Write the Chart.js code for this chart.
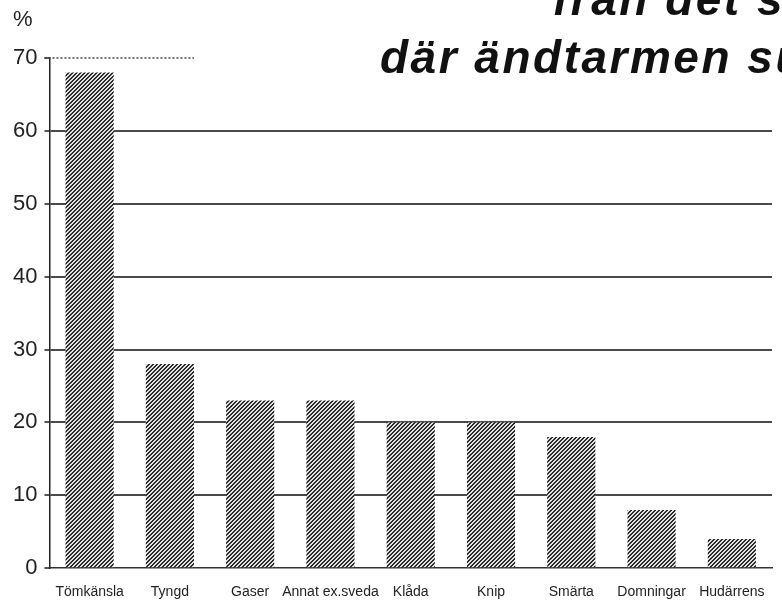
<!DOCTYPE html>
<html>
<head>
<meta charset="utf-8">
<script src="https://cdn.jsdelivr.net/npm/chart.js@4"></script>
<style>
  html, body { margin: 0; padding: 0; background: #fff; overflow: hidden; }
  #wrap { position: relative; width: 782px; height: 602px; overflow: hidden; }
  canvas { position: absolute; left: 0; top: 0; }
  .ttl { position: absolute; font-family: "Liberation Sans", Arial, sans-serif; font-weight: bold; font-style: italic;
         font-size: 46px; line-height: 46px; letter-spacing: 2.5px; white-space: nowrap; color: #111; }
  #pct { position: absolute; left: 13px; top: 8px; font-family: "Liberation Sans", Arial, sans-serif;
         font-size: 22px; line-height: 22px; color: #222; }
</style>
</head>
<body>
<div id="wrap">
  <canvas id="c" width="782" height="602"></canvas>
  <div class="ttl" style="left:553px; top:-24px;">från det ställe</div>
  <div class="ttl" style="left:380px; top:34px;">där ändtarmen suttit</div>
  <div id="pct">%</div>
</div>
<script>
const categories = ["Tömkänsla", "Tyngd", "Gaser", "Annat ex.sveda", "Klåda", "Knip", "Smärta", "Domningar", "Hudärrens"];
const percentValues = [68, 28, 23, 23, 20, 20, 18, 8, 4];
const yTicks = [0, 10, 20, 30, 40, 50, 60, 70];

function makePattern() {
  const p = document.createElement('canvas');
  p.width = 4; p.height = 4;
  const g = p.getContext('2d');
  g.fillStyle = '#e2e2e2';
  g.fillRect(0, 0, 4, 4);
  g.fillStyle = '#2b2b2b';
  for (let i = 0; i < 4; i++) for (let j = 0; j < 4; j++) {
    if ((i + j) % 4 < 2) g.fillRect(i, j, 1, 1);
  }
  return document.getElementById('c').getContext('2d').createPattern(p, 'repeat');
}

const topLinePlugin = {
  id: 'topLine',
  beforeDatasetsDraw(chart) {
    const { ctx, chartArea, scales } = chart;
    const y = scales.y.getPixelForValue(70);
    const bar = chart.getDatasetMeta(0).data[1];
    const xEnd = bar.x + bar.width / 2;
    ctx.save();
    ctx.strokeStyle = '#444';
    ctx.lineWidth = 1.5;
    ctx.setLineDash([2, 2]);
    ctx.beginPath();
    ctx.moveTo(chartArea.left - 5, y);
    ctx.lineTo(xEnd, y);
    ctx.stroke();
    ctx.restore();
  }
};

new Chart(document.getElementById('c'), {
  type: 'bar',
  data: {
    labels: categories,
    datasets: [{
      data: percentValues,
      backgroundColor: makePattern(),
      borderWidth: 0,
      categoryPercentage: 1.0,
      barPercentage: 0.6
    }]
  },
  options: {
    responsive: false,
    animation: false,
    devicePixelRatio: 1,
    layout: { padding: { left: 6, right: 10, top: 58, bottom: -15 } },
    plugins: { legend: { display: false }, title: { display: false }, tooltip: { enabled: false } },
    scales: {
      x: {
        offset: true,
        grid: { display: false, drawTicks: false },
        border: { display: true, color: '#333', width: 1.5 },
        ticks: {
          autoSkip: false, maxRotation: 0, minRotation: 0, padding: 16,
          color: '#222', font: { family: 'Liberation Sans, Arial, sans-serif', size: 14 }
        }
      },
      y: {
        min: 0, max: 70,
        afterBuildTicks(axis) { axis.ticks = yTicks.map(v => ({ value: v })); },
        grid: {
          color: ctx => (ctx.tick && (ctx.tick.value === 70 || ctx.tick.value === 0)) ? 'rgba(0,0,0,0)' : '#4a4a4a',
          lineWidth: 2,
          tickLength: 5,
          tickColor: '#555'
        },
        border: { display: true, color: '#222', width: 1.5 },
        ticks: {
          padding: 7, color: '#222',
          font: { family: 'Liberation Sans, Arial, sans-serif', size: 22 }
        }
      }
    }
  },
  plugins: [topLinePlugin]
});
</script>
</body>
</html>
